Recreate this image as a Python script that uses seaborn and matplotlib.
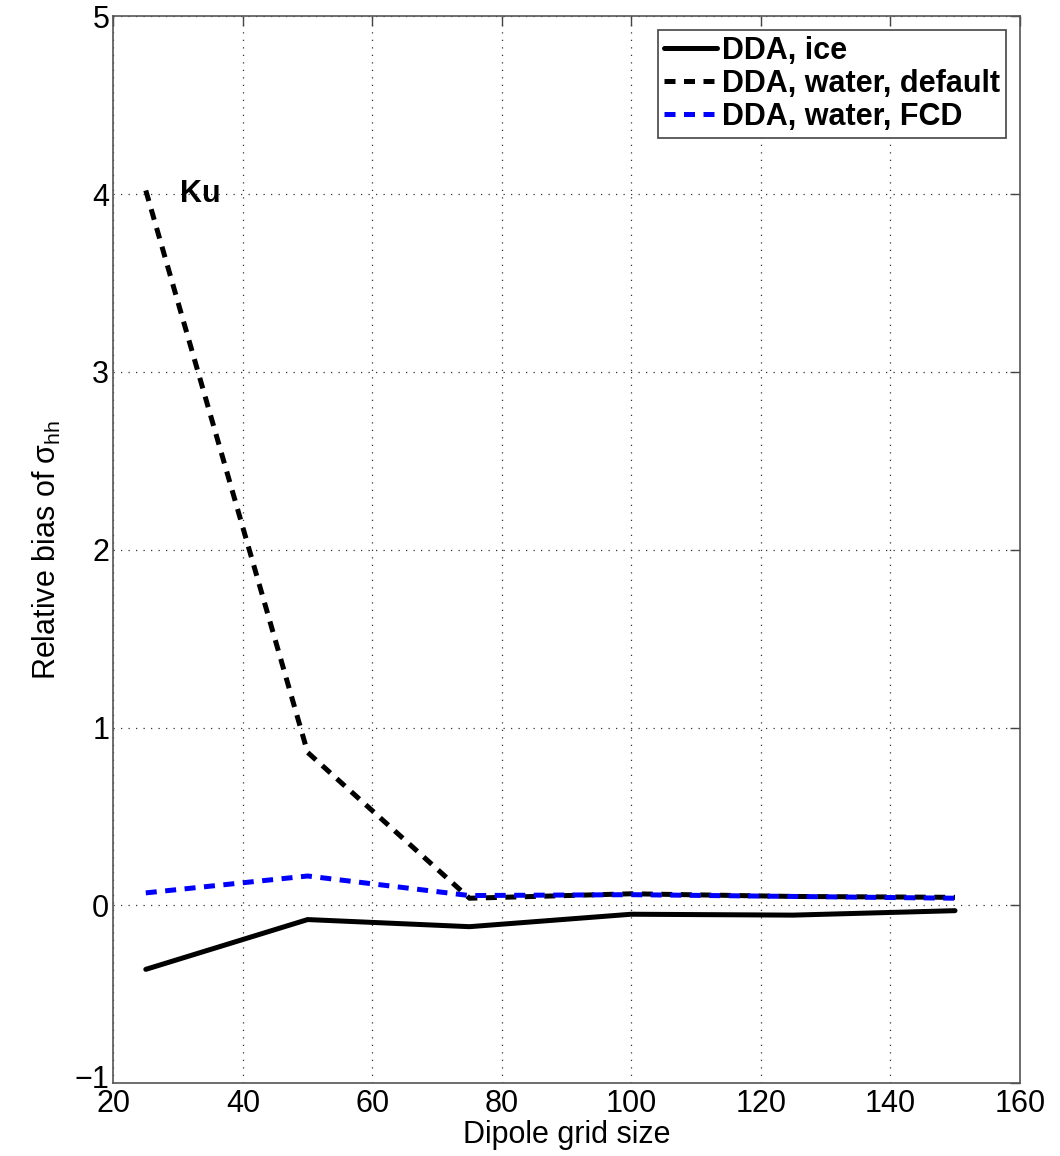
import numpy as np
import pandas as pd
import matplotlib
matplotlib.use('Agg')
import matplotlib.pyplot as plt
import matplotlib.transforms as mtransforms
import seaborn as sns

# values
grid_size = [25, 50, 75, 100, 125, 150]
bias_ice = [-0.36, -0.08, -0.12, -0.05, -0.055, -0.03]
bias_water_default = [4.02, 0.86, 0.04, 0.065, 0.05, 0.045]
bias_water_fcd = [0.07, 0.165, 0.055, 0.06, 0.05, 0.04]

series_names = ['DDA, ice', 'DDA, water, default', 'DDA, water, FCD']
series_colors = ['black', 'black', 'blue']

sns.set_style('white')
plt.rcParams['font.family'] = ['Liberation Sans', 'DejaVu Sans']
plt.rcParams['mathtext.fontset'] = 'custom'
plt.rcParams['mathtext.rm'] = 'Liberation Sans'
plt.rcParams['mathtext.it'] = 'Liberation Sans'
plt.rcParams['text.color'] = 'black'
plt.rcParams['axes.labelcolor'] = 'black'
plt.rcParams['xtick.labelcolor'] = 'black'
plt.rcParams['ytick.labelcolor'] = 'black'

df = pd.DataFrame({
    'x': grid_size * 3,
    'y': bias_ice + bias_water_default + bias_water_fcd,
    'serie': np.repeat(series_names, len(grid_size)),
})

fig = plt.figure(figsize=(10.6, 11.56), dpi=100)
ax = fig.add_axes([0.107, 0.063, 0.855, 0.923])

lw = 3.6
sns.lineplot(data=df, x='x', y='y', hue='serie', style='serie',
             palette=dict(zip(series_names, series_colors)),
             dashes={series_names[0]: '', series_names[1]: (2.2, 1.7), series_names[2]: (2.2, 1.7)},
             linewidth=lw, ax=ax, legend=True)

ax.set_xlim(20, 160)
ax.set_ylim(-1, 5)
ax.set_xticks(np.arange(20, 161, 20))
ax.set_yticks(np.arange(-1, 6, 1))
ax.tick_params(direction='in', length=7, width=1, labelsize=22, color='#444444',
               top=True, right=True, pad=3)
ax.tick_params(axis='x', pad=4)
ax.grid(True, linestyle=(0, (1, 5)), color='#333333', linewidth=0.9)
for s in ax.spines.values():
    s.set_color('#555555')
    s.set_linewidth(1.2)

# nudge the -1 label up a bit so it does not run into the "20"
lab = ax.get_yticklabels()[0]
lab.set_transform(lab.get_transform() + mtransforms.ScaledTranslation(0, 5 / 72, fig.dpi_scale_trans))

ax.set_xlabel('Dipole grid size', fontsize=22, labelpad=1)
ax.set_ylabel(r'Relative bias of $\sigma_{hh}$', fontsize=22, labelpad=8)

ax.text(30.3, 4.0, 'Ku', fontsize=22, fontweight='bold', ha='left', va='center')

leg = ax.legend(loc='upper right', fontsize=22, handlelength=1.75, handletextpad=0.15,
                borderpad=0.2, labelspacing=0.1, borderaxespad=0.45,
                fancybox=False, framealpha=1, edgecolor='#444444')
leg.get_frame().set_linewidth(1.2)
for t in leg.get_texts():
    t.set_fontweight('bold')
for h in leg.get_lines():
    h.set_linewidth(lw)

fig.savefig('out.png', dpi=100)
